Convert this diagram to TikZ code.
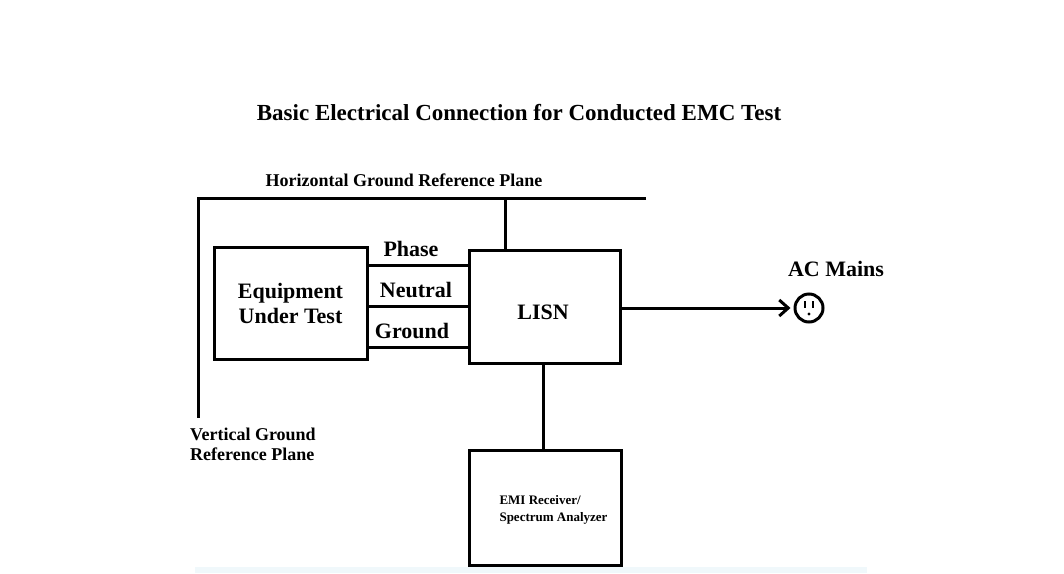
\documentclass[tikz,border=0pt]{standalone}
\usepackage{fontspec}
\setmainfont{Liberation Serif}
\usetikzlibrary{arrows.meta}
\begin{document}
\begin{tikzpicture}[x=1pt,y=-1pt,
  box/.style={draw,line width=3pt,inner sep=0pt},
  wire/.style={line width=3pt},
  lbl/.style={font=\bfseries\fontsize{22}{25}\selectfont},
  small/.style={font=\bfseries\fontsize{18}{20}\selectfont}]
\useasboundingbox (0,0) rectangle (1064,573);
\fill[fill={rgb,255:red,240;green,248;blue,251}] (195,567) rectangle (867,573);
\node[font=\bfseries\fontsize{23}{26}\selectfont] (title) at (519,113) {Basic Electrical Connection for Conducted EMC Test};
\node[small] (hgrp) at (404,180) {Horizontal Ground Reference Plane};
\coordinate (hl) at (198,198); \coordinate (hr) at (646,198); \coordinate (vb) at (198,418);
\draw[wire] (hr) -- (hl) -- (vb);
\node[small,align=left,anchor=north west,inner sep=0pt] (vgrp) at (190,428) {Vertical Ground\\Reference Plane};
\node[box,minimum width=153pt,minimum height=112pt] (eut) at (290.5,303) {};
\node[lbl,align=center] at (eut) {Equipment\\Under Test};
\node[box,minimum width=151pt,minimum height=113pt] (lisn) at (544.5,306.5) {};
\node[lbl] at (543,312) {LISN};
\coordinate (lt) at (505,198);
\draw[wire] (lt) -- (lisn.north -| lt);
\foreach \y/\t/\lx in {265/Phase/411,306/Neutral/416,347/Ground/412}{
  \draw[wire] (367,\y) -- (469,\y);
  \node[lbl] at (\lx,\y-16) {\t};
}
\node[draw,line width=3pt,circle,minimum size=28pt,inner sep=0pt] (out) at (809,308) {};
\fill (804,301) rectangle (806,308);
\fill (812,301) rectangle (814,308);
\fill (809,314) circle (1.6);
\draw[wire,-{Straight Barb[length=9pt,width=16pt,line width=3pt]}] (lisn.east |- out) -- ([xshift=-3pt]out.west);
\node[lbl] (ac) at (836,269) {AC Mains};
\node[box,minimum width=152pt,minimum height=115pt] (emi) at (545,507.5) {};
\node[font=\bfseries\fontsize{13}{17}\selectfont,align=left,anchor=west] at (496,510) {EMI Receiver/\\Spectrum Analyzer};
\draw[wire] (lisn.south -| 543,0) -- (emi.north -| 543,0);
\end{tikzpicture}
\end{document}
